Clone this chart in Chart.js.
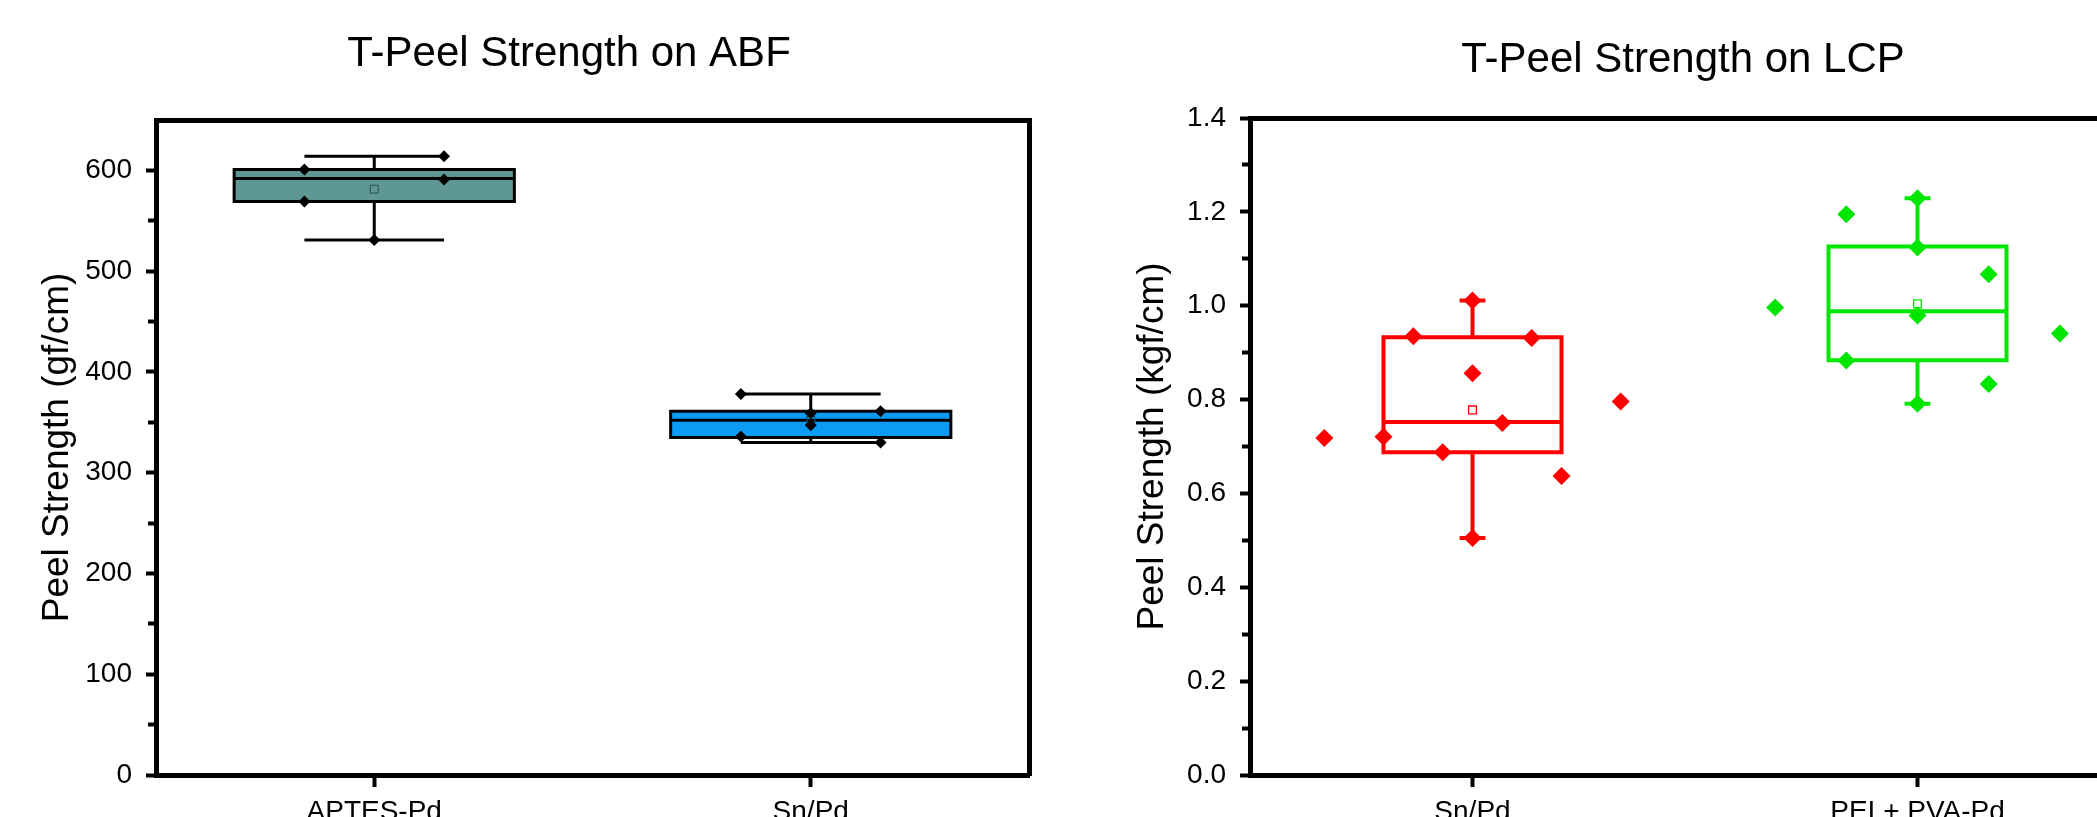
<!DOCTYPE html>
<html>
<head>
<meta charset="utf-8">
<title>T-Peel Strength</title>
<script src="https://cdn.jsdelivr.net/npm/chart.js@4.4.1/dist/chart.umd.min.js"></script>
<style>
    html, body { margin: 0; padding: 0; background: #fff; }
    body { width: 2097px; height: 817px; overflow: hidden; position: relative; }
    canvas { position: absolute; top: 0; }
    #chart-abf { left: 0; }
    #chart-lcp { left: 1100px; }
</style>
</head>
<body>
<canvas id="chart-abf" width="1138" height="817"></canvas>
<canvas id="chart-lcp" width="1166" height="817"></canvas>
<script>
// Two Origin-style box plots (box + whiskers + mean + raw points), drawn on linear x axes

const FONT = "'Liberation Sans', Arial, sans-serif";

// ---- ABF panel (gf/cm) ----
const ABF_GROUPS = ["APTES-Pd", "Sn/Pd"];
const ABF_Q1     = [569, 335];
const ABF_MEDIAN = [592, 352];
const ABF_Q3     = [601, 361];
const ABF_MIN    = [531, 330];
const ABF_MAX    = [614, 378];
const ABF_MEAN   = [581.2, 351.8];

const ABF_APTES_VALUES = [601, 569, 531, 614, 591];
const ABF_APTES_JITTER = [-0.16, -0.16, 0, 0.16, 0.16];
const ABF_SNPD_VALUES  = [378, 336, 359, 347, 361, 330];
const ABF_SNPD_JITTER  = [-0.16, -0.16, 0, 0, 0.16, 0.16];

const ABF_Y_TICKS = [0, 100, 200, 300, 400, 500, 600];
const ABF_Y_MINOR = [50, 150, 250, 350, 450, 550];

// ---- LCP panel (kgf/cm) ----
const LCP_GROUPS = ["Sn/Pd", "PEI + PVA-Pd"];
const LCP_Q1     = [0.688, 0.884];
const LCP_MEDIAN = [0.752, 0.988];
const LCP_Q3     = [0.933, 1.126];
const LCP_MIN    = [0.505, 0.791];
const LCP_MAX    = [1.011, 1.229];
const LCP_MEAN   = [0.778, 1.004];

const LCP_SNPD_VALUES = [0.718, 0.721, 0.935, 0.688, 1.011, 0.856, 0.505, 0.750, 0.931, 0.637, 0.796];
const LCP_SNPD_JITTER = [-0.333, -0.2, -0.133, -0.067, 0, 0, 0, 0.067, 0.133, 0.2, 0.333];
const LCP_PEI_VALUES  = [0.996, 1.195, 0.883, 1.229, 1.124, 0.979, 0.791, 1.067, 0.833, 0.941];
const LCP_PEI_JITTER  = [-0.32, -0.16, -0.16, 0, 0, 0, 0, 0.16, 0.16, 0.32];

const LCP_Y_TICKS = [0, 0.2, 0.4, 0.6, 0.8, 1.0, 1.2, 1.4];
const LCP_Y_MINOR = [0.1, 0.3, 0.5, 0.7, 0.9, 1.1, 1.3];

// ---- Looks per group ----
const LOOK_APTES = { fill: "#5f9795", line: "#000", lineWidth: 3, boxHalf: 0.321, capHalf: 0.16,
                     mean: "#2f605d", meanRadius: 5.5, dot: "#000", dotRadius: 6 };
const LOOK_ABF_SNPD = { fill: "#0a9cf5", line: "#000", lineWidth: 3, boxHalf: 0.321, capHalf: 0.16,
                        mean: "#0b4f86", meanRadius: 5.5, dot: "#000", dotRadius: 6 };
const LOOK_RED   = { fill: "rgba(0,0,0,0)", line: "#ff0000", lineWidth: 4, boxHalf: 0.2, capHalf: 0.029,
                     mean: "#ff0000", meanRadius: 5.5, dot: "#ff0000", dotRadius: 9 };
const LOOK_GREEN = { fill: "rgba(0,0,0,0)", line: "#00e600", lineWidth: 4, boxHalf: 0.2, capHalf: 0.029,
                     mean: "#00e600", meanRadius: 5.5, dot: "#00e600", dotRadius: 9 };

// ---- Build the datasets for one box (category index i) ----
function groupDatasets(i, s, values, jitter, look) {
    const x = i + 1;
    const hw = look.boxHalf, cw = look.capHalf;
    const gap = { x: x, y: null };
    return [
        {   // box body
            data: [
                { x: x - hw, y: s.q1 }, { x: x + hw, y: s.q1 },
                { x: x + hw, y: s.q3 }, { x: x - hw, y: s.q3 },
                { x: x - hw, y: s.q1 }, { x: x + hw, y: s.q1 }
            ],
            showLine: true, fill: "shape", backgroundColor: look.fill,
            borderColor: look.line, borderWidth: look.lineWidth,
            pointRadius: 0, order: 5
        },
        {   // median
            data: [{ x: x - hw, y: s.median }, { x: x + hw, y: s.median }],
            showLine: true, fill: false, borderColor: look.line, borderWidth: look.lineWidth,
            pointRadius: 0, order: 4
        },
        {   // whiskers and caps
            data: [
                { x: x, y: s.q3 }, { x: x, y: s.max }, gap,
                { x: x - cw, y: s.max }, { x: x + cw, y: s.max }, gap,
                { x: x, y: s.q1 }, { x: x, y: s.min }, gap,
                { x: x - cw, y: s.min }, { x: x + cw, y: s.min }
            ],
            showLine: true, spanGaps: false, fill: false, borderColor: look.line,
            borderWidth: look.lineWidth, pointRadius: 0, order: 4
        },
        {   // mean marker (open square)
            data: [{ x: x, y: s.mean }],
            pointStyle: "rect", pointRadius: look.meanRadius,
            pointBackgroundColor: "rgba(0,0,0,0)", pointBorderColor: look.mean, pointBorderWidth: 1.3,
            order: 2
        },
        {   // raw data points
            data: values.map((v, k) => ({ x: x + jitter[k], y: v })),
            pointStyle: "rectRot", pointRadius: look.dotRadius,
            pointBackgroundColor: look.dot, pointBorderWidth: 0,
            order: 1
        }
    ];
}

function statsAt(i, q1, med, q3, min, max, mean) {
    return { q1: q1[i], median: med[i], q3: q3[i], min: min[i], max: max[i], mean: mean[i] };
}

// ---- Origin-like frame: thick border all round, outward ticks ----
function buildScales(cfg) {
    const tickFont = { family: FONT, size: 28 };
    return {
        x: {
            type: "linear", position: "bottom", min: 0.5, max: 2.5,
            afterBuildTicks: (s) => { s.ticks = cfg.groups.map((g, i) => ({ value: i + 1 })); },
            ticks: {
                callback: (v) => cfg.groups[Math.round(v) - 1],
                font: tickFont, color: "#000", padding: 8,
                autoSkip: false, maxRotation: 0, minRotation: 0
            },
            grid: { display: true, drawOnChartArea: false, drawTicks: true,
                    tickLength: 12, tickWidth: 4, tickColor: "#000" },
            border: { display: true, width: 5, color: "#000" },
            afterFit: (s) => { s.height = 42; }
        },
        y: {
            type: "linear", position: "left", weight: 1, min: cfg.min, max: cfg.max,
            afterBuildTicks: (s) => { s.ticks = cfg.ticks.map((v) => ({ value: v })); },
            ticks: { callback: cfg.format, font: tickFont, color: "#000", padding: 14 },
            grid: { display: true, drawOnChartArea: false, drawTicks: true,
                    tickLength: 10, tickWidth: 4, tickColor: "#000" },
            border: { display: true, width: 5, color: "#000" },
            title: { display: true, text: cfg.yTitle, color: "#000",
                     font: { family: FONT, size: 37 }, padding: { top: cfg.titlePad, bottom: 0 } },
            afterFit: (s) => { s.width = cfg.axisWidth; }
        },
        yMinor: {
            type: "linear", position: "left", weight: 0, min: cfg.min, max: cfg.max,
            afterBuildTicks: (s) => { s.ticks = cfg.minor.map((v) => ({ value: v })); },
            ticks: { display: false },
            grid: { display: true, drawOnChartArea: false, drawTicks: true,
                    tickLength: 8, tickWidth: 4, tickColor: "#000" },
            border: { display: false },
            afterFit: (s) => { s.width = 0; }
        },
        xTop: {
            type: "linear", position: "top", min: 0, max: 1,
            ticks: { display: false }, grid: { display: false },
            border: { display: true, width: 5, color: "#000" },
            afterFit: (s) => { s.height = 0; }
        },
        yRight: {
            type: "linear", position: "right", min: 0, max: 1,
            ticks: { display: false }, grid: { display: false },
            border: { display: true, width: 5, color: "#000" },
            afterFit: (s) => { s.width = cfg.rightSpace; }
        }
    };
}

function makeChart(canvasId, datasets, cfg) {
    const ctx = document.getElementById(canvasId).getContext("2d");
    return new Chart(ctx, {
        type: "scatter",
        data: { datasets },
        options: {
            responsive: false,
            animation: false,
            events: [],
            layout: { padding: 0 },
            plugins: {
                legend: { display: false },
                tooltip: { enabled: false },
                title: {
                    display: true, text: cfg.title, color: "#000",
                    font: { family: FONT, size: 42, weight: "normal" },
                    padding: { top: cfg.titleTop, bottom: cfg.titleBottom }
                }
            },
            scales: buildScales(cfg)
        }
    });
}

// ---- ABF chart ----
const abfDatasets = [
    ...groupDatasets(0, statsAt(0, ABF_Q1, ABF_MEDIAN, ABF_Q3, ABF_MIN, ABF_MAX, ABF_MEAN),
                     ABF_APTES_VALUES, ABF_APTES_JITTER, LOOK_APTES),
    ...groupDatasets(1, statsAt(1, ABF_Q1, ABF_MEDIAN, ABF_Q3, ABF_MIN, ABF_MAX, ABF_MEAN),
                     ABF_SNPD_VALUES, ABF_SNPD_JITTER, LOOK_ABF_SNPD)
];

makeChart("chart-abf", abfDatasets, {
    title: "T-Peel Strength on ABF", titleTop: 29, titleBottom: 40.6,
    groups: ABF_GROUPS, min: 0, max: 650, ticks: ABF_Y_TICKS, minor: ABF_Y_MINOR,
    format: (v) => String(v), yTitle: "Peel Strength (gf/cm)", titlePad: 36,
    axisWidth: 156, rightSpace: 109
});

// ---- LCP chart ----
const lcpDatasets = [
    ...groupDatasets(0, statsAt(0, LCP_Q1, LCP_MEDIAN, LCP_Q3, LCP_MIN, LCP_MAX, LCP_MEAN),
                     LCP_SNPD_VALUES, LCP_SNPD_JITTER, LOOK_RED),
    ...groupDatasets(1, statsAt(1, LCP_Q1, LCP_MEDIAN, LCP_Q3, LCP_MIN, LCP_MAX, LCP_MEAN),
                     LCP_PEI_VALUES, LCP_PEI_JITTER, LOOK_GREEN)
];

makeChart("chart-lcp", lcpDatasets, {
    title: "T-Peel Strength on LCP", titleTop: 35, titleBottom: 32.6,
    groups: LCP_GROUPS, min: 0, max: 1.4, ticks: LCP_Y_TICKS, minor: LCP_Y_MINOR,
    format: (v) => v.toFixed(1), yTitle: "Peel Strength (kgf/cm)", titlePad: 31,
    axisWidth: 150, rightSpace: 126
});
</script>
</body>
</html>
